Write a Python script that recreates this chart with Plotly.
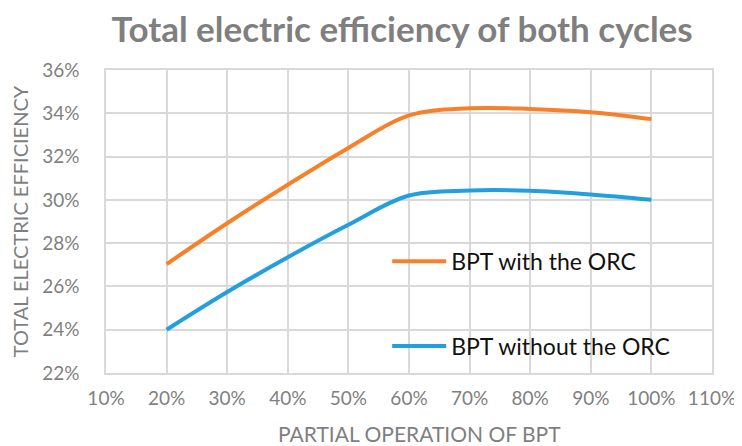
import plotly.graph_objects as go

load = [0.2, 0.3, 0.4, 0.5, 0.6, 0.7, 0.8, 0.9, 1.0]
with_orc = [0.2703, 0.2892, 0.3070, 0.3240, 0.3390, 0.3423, 0.3420, 0.3405, 0.3373]
without_orc = [0.2400, 0.2574, 0.2735, 0.2885, 0.3020, 0.3043, 0.3042, 0.3025, 0.3000]

grey = "#7f7f7f"
font = "Lato"

fig = go.Figure()
fig.add_trace(go.Scatter(x=load, y=with_orc, mode="lines", name="BPT with the ORC",
                         legendgroup="a",
                         line=dict(color="#f7812a", width=4, shape="spline", smoothing=1.0)))
fig.add_trace(go.Scatter(x=load, y=without_orc, mode="lines", name="BPT without the ORC",
                         legendgroup="b",
                         line=dict(color="#229fdc", width=4, shape="spline", smoothing=1.0)))

# page body has an 8px margin, so the figure is drawn 8px smaller
fig.update_layout(
    width=734, height=438,
    margin=dict(l=98, r=30, t=62, b=73, autoexpand=False),
    paper_bgcolor="white", plot_bgcolor="white",
    font=dict(family=font, color=grey),
    title=dict(text="<b>Total electric efficiency of both cycles</b>", x=0.537, xanchor="center",
               y=0.95, yanchor="middle", font=dict(size=35, color=grey, family=font)),
    legend=dict(x=0.464, y=0.44, xanchor="left", yanchor="top", bgcolor="rgba(0,0,0,0)",
                itemwidth=54,
                font=dict(size=23, color="#111111", family=font), tracegroupgap=52),
    annotations=[dict(text="PARTIAL OPERATION OF BPT", xref="paper", yref="paper",
                      x=0.518, y=-0.2, xanchor="center", yanchor="middle", showarrow=False,
                      font=dict(size=21, color=grey, family=font))],
)
fig.update_xaxes(range=[0.1, 1.1], dtick=0.1, tick0=0.1, tickformat=".0%",
                 showgrid=True, gridcolor="#d9d9d9", gridwidth=1.5,
                 showline=True, linecolor="#d9d9d9", linewidth=1.5, mirror=True,
                 zeroline=False, ticks="", ticklabelstandoff=7, automargin=False,
                 tickfont=dict(size=19, color=grey))
fig.update_yaxes(range=[0.22, 0.36], dtick=0.02, tick0=0.22, tickformat=".0%",
                 showgrid=True, gridcolor="#d9d9d9", gridwidth=1.5,
                 showline=True, linecolor="#d9d9d9", linewidth=1.5, mirror=True,
                 zeroline=False, ticks="", ticklabelstandoff=21, automargin=False,
                 tickfont=dict(size=19, color=grey),
                 title=dict(text="TOTAL ELECTRIC EFFICIENCY", font=dict(size=20, color=grey), standoff=9))

fig.write_html("out.html")
